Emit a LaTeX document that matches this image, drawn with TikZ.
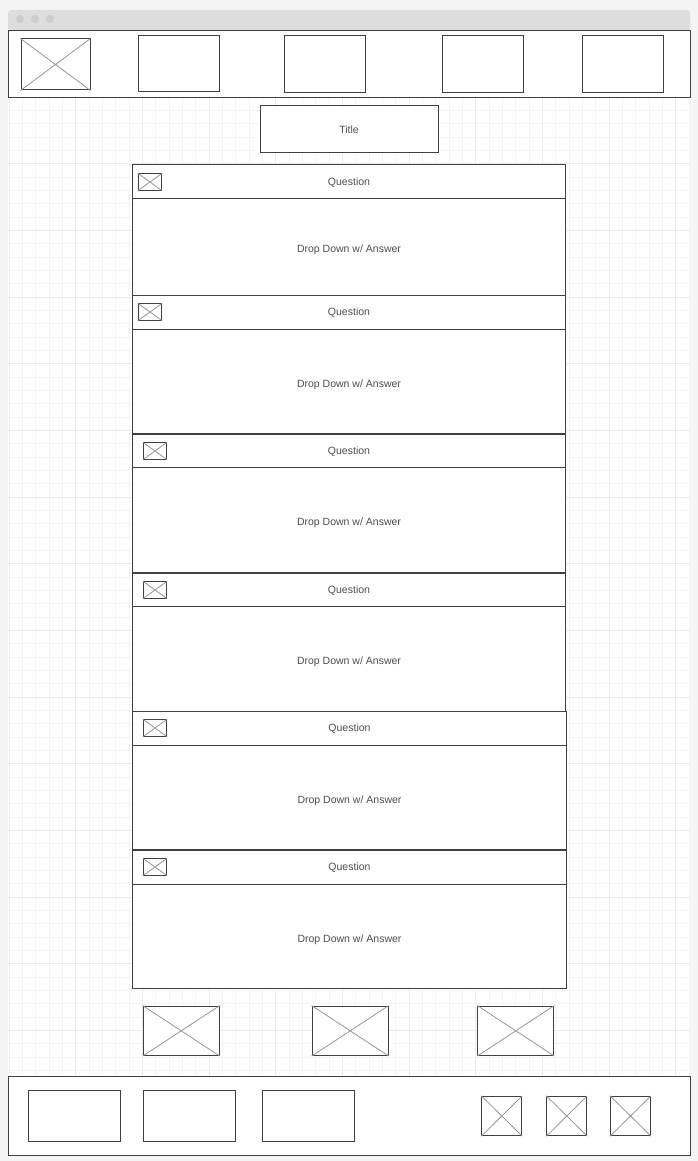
\documentclass[tikz,border=0pt]{standalone}
\usepackage{fontspec}
\setmainfont{Liberation Sans}

\begin{document}
\begin{tikzpicture}[x=1pt,y=-1pt]
	\definecolor{wfline}{RGB}{64,64,64}
	\definecolor{wftext}{RGB}{77,77,77}
	\definecolor{wfcross}{RGB}{150,150,150}
	\definecolor{wfpage}{RGB}{244,244,244}
	\definecolor{wfbar}{RGB}{221,221,221}
	\definecolor{wfdot}{RGB}{204,204,204}
	\definecolor{gridmin}{RGB}{244,244,244}
	\definecolor{gridmaj}{RGB}{235,235,235}
	\tikzset{
		wbox/.style={
			rectangle,
			draw=wfline,
			line width=1pt,
			fill=white,
			inner sep=0pt,
			text depth=0pt,
			text=wftext,
			font=\fontsize{10.5}{12}\selectfont
		},
		qhead/.style={wbox, minimum width=433, minimum height=34},
		ansbox/.style={wbox, minimum width=433, text height=11.5pt},
		qicon/.style={wbox, minimum width=23.4, minimum height=16.5},
		xline/.style={draw=wfcross, line width=0.8pt}
	}

	% ======= page and window =======
	\fill[wfpage] (0,0) rectangle (698,1161);
	\useasboundingbox (0,0) rectangle (698,1161);
	\fill[white] (8,31) rectangle (690,1156);
	\fill[wfbar, rounded corners=3pt] (8,31) -- (8,10) -- (690,10) -- (690,31) -- cycle;
	\fill[wfdot] (20,19) circle [radius=4];
	\fill[wfdot] (35,19) circle [radius=4];
	\fill[wfdot] (50,19) circle [radius=4];

	% ======= grid =======
	\begin{scope}
		\clip (8,98) rectangle (690,1156);
		\foreach \k in {0,...,51}
			\draw[gridmin, line width=0.8pt] ({9+13.333*\k},98) -- ({9+13.333*\k},1156);
		\foreach \k in {0,...,80}
			\draw[gridmin, line width=0.8pt] (8,{97+13.333*\k}) -- (690,{97+13.333*\k});
		\foreach \k in {0,5,...,50}
			\draw[gridmaj, line width=0.8pt] ({9+13.333*\k},98) -- ({9+13.333*\k},1156);
		\foreach \k in {0,5,...,80}
			\draw[gridmaj, line width=0.8pt] (8,{97+13.333*\k}) -- (690,{97+13.333*\k});
	\end{scope}

	% ======= header =======
	\node[wbox, minimum width=682, minimum height=67] (header) at (349,64.5) {};
	\node[wbox, minimum width=69, minimum height=51] (hlogo) at (55.5,64.5) {};
	\node[wbox, minimum width=81, minimum height=56] (hnav1) at (178.5,64) {};
	\node[wbox, minimum width=81, minimum height=57] (hnav2) at (324.5,64.5) {};
	\node[wbox, minimum width=81, minimum height=57] (hnav3) at (482.5,64.5) {};
	\node[wbox, minimum width=81, minimum height=57] (hnav4) at (622.5,64.5) {};

	\node[wbox, minimum width=178, minimum height=47] (title) at (349,129.5) {Title};

	% ======= questions =======
	\node[qhead] (q1) at (349,182) {Question};
	\node[ansbox, minimum height=96] (a1) at (349,247) {Drop Down w/ Answer};
	\node[qicon] (q1i) at (150,182) {};

	\node[qhead] (q2) at (349,312) {Question};
	\node[ansbox, minimum height=104.5] (a2) at (349,381.25) {Drop Down w/ Answer};
	\node[qicon] (q2i) at (150,312) {};

	\node[qhead, minimum height=33.5] (q3) at (349,450.75) {Question};
	\node[ansbox, minimum height=105] (a3) at (349,520) {Drop Down w/ Answer};
	\node[qicon] (q3i) at (155,451) {};

	\node[qhead, minimum height=33.5] (q4) at (349,589.75) {Question};
	\node[ansbox, minimum height=104.5] (a4) at (349,658.75) {Drop Down w/ Answer};
	\node[qicon] (q4i) at (155,590) {};

	\node[qhead, minimum width=434] (q5) at (349.5,728) {Question};
	\node[ansbox, minimum width=434, minimum height=104.5] (a5) at (349.5,797.25) {Drop Down w/ Answer};
	\node[qicon] (q5i) at (155,728) {};

	\node[qhead, minimum width=434] (q6) at (349.5,867) {Question};
	\node[ansbox, minimum width=434, minimum height=104.5] (a6) at (349.5,936.25) {Drop Down w/ Answer};
	\node[qicon] (q6i) at (155,867) {};

	% ======= images under the list =======
	\node[wbox, minimum width=76, minimum height=49.5] (img1) at (181.2,1030.8) {};
	\node[wbox, minimum width=76, minimum height=49.5] (img2) at (350.2,1030.8) {};
	\node[wbox, minimum width=76, minimum height=49.5] (img3) at (515.8,1030.8) {};

	% ======= footer =======
	\node[wbox, minimum width=682, minimum height=79] (footer) at (349,1115.8) {};
	\node[wbox, minimum width=92.5, minimum height=51.4] (fbox1) at (74.4,1116) {};
	\node[wbox, minimum width=92.5, minimum height=51.4] (fbox2) at (189.3,1116) {};
	\node[wbox, minimum width=91.7, minimum height=51.4] (fbox3) at (308.6,1116) {};
	\node[wbox, minimum width=40, minimum height=39.4] (ficon1) at (501.8,1116) {};
	\node[wbox, minimum width=40, minimum height=39.4] (ficon2) at (566.8,1116) {};
	\node[wbox, minimum width=40, minimum height=39.4] (ficon3) at (630.5,1116) {};

	% ======= crosses =======
	\foreach \n in {hlogo,q1i,q2i,q3i,q4i,q5i,q6i,img1,img2,img3,ficon1,ficon2,ficon3}
		\draw[xline] (\n.north west) -- (\n.south east) (\n.north east) -- (\n.south west);
\end{tikzpicture}
\end{document}
